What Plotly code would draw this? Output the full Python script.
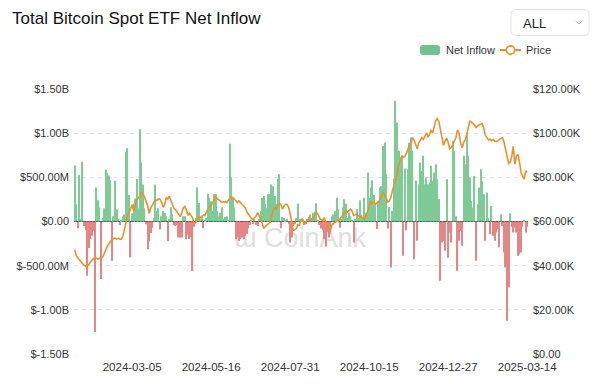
import plotly.graph_objects as go
import pandas as pd

# ---------------- data ----------------
# daily total net inflow of spot BTC ETFs, in $M
net_inflow_musd = [
    633, 196, -75, 528, 30, 675, -50, -100, -615, -300, -200, -160, -110, -1250, 385, 240,
    160, -650, 40, 150, 590, 550, 520, 470, -445, 60, 460, 140, 30, -40, 20, 60, 80, 790, 830, 300,
    -407, 90, 200, 260, 480, 150, 1045, 670, 420, 150,
    -30, -313, -220, -130, -70, 40, 420, 120, 150, -90, 60, 120, 100, 60, -220, 30, 160, 80, -40, -50,
    -40, -180, -180, -180, 60, 60, -200, -150, -200,
    -180, -560, -60, 40, 385, 210, 30, 50, -75, 20, 40, 310, 270, 230, 120, 310, 310, 120, 60, 100,
    160, 30, 50, 60, 20, 880, 500, 270, 160, -200, -180,
    -220, -200, -180, -200, -160, -140, -80, -40, 20, -30, 40, -40, -50, 30, 120, 270, 290, 200, 150, 310,
    310, 420, 400, 290, 200, 480, 535, -75,
    50, 40, 20, 30, -30, -237, -180, -50, -30, 40, 200, 30, 20, 10, -40, -30, 30, 50, 80, 40,
    100, 110, 207, 20, -40, -80, -100, -200, -283, -120, -180, -140,
    60, 80, 120, 270, 140, -70, 30, 158, 253, 200, 40, 100, 60, 20, -237, 30, 140, 40, 240, 60,
    40, 270, 100, 554, 270, 385, 467, 300, 190,
    -85, 233, 385, 400, 855, 893, 540, -80, 160, -520, 120, 490, 1365, 1120, 800, 686, 750, -388, 600, -100,
    592, 893, 950, 800, -426, 460, -219,
    422, 667, 573, 743, 422, 498, 422, 440, 630, 460, 554, 648, 479, 253, -671, -237, -219, -332, 479, -407,
    -124, -237, 912, 800, 60, -558, -219, -106, -275,
    743, 648, 988, 743, 498, 233, 158, 516, -445, 196, 385, 592, 460, 309, -219, 328, 40, -143, 177, -162,
    -219, -124, -87, -294, 83, -50, -350, -520, -1124, -747,
    94, -60, -125, -70, -125, -389, -370, -350, -60, 20, -125, -60,
]

# BTC price, in $K
price_kusd = [
    47.2, 44.5, 43.5, 42.5, 41.8, 41.0, 40.2, 39.8, 39.9, 40.3, 41.6, 42.6, 43.3, 43.1, 43.3, 43.0,
    43.5, 43.7, 43.8, 45.8, 47.0, 48.8, 49.9, 51.2, 51.9, 52.3, 52.5, 52.0, 52.4, 52.1, 51.9, 53.2,
    56.8, 59.8, 62.4, 63.8, 65.5, 67.6, 64.9, 67.5, 69.9, 70.6, 72.0, 73.0, 72.8, 70.5,
    69.1, 67.2, 63.6, 66.0, 67.5, 69.2, 70.0, 69.5, 70.3, 70.0, 68.7, 66.4, 67.6, 70.7, 70.2, 71.4,
    69.6, 67.9, 66.0, 65.4, 64.2, 63.4, 62.2, 63.8, 66.0, 66.8, 65.3, 62.8, 63.9,
    62.8, 61.6, 59.0, 59.6, 61.0, 62.0, 61.8, 62.5, 63.0, 62.7, 64.3, 65.9, 66.5, 67.2, 68.2, 70.0,
    71.5, 70.3, 69.7, 69.1, 68.7, 68.9, 69.0, 68.6, 69.3, 70.0, 71.1, 70.9, 70.2, 69.1, 68.6,
    69.3, 68.6, 67.6, 67.1, 66.3, 64.4, 63.2, 62.0, 61.4, 61.0, 61.7, 62.5, 64.0, 62.7, 61.2, 59.0,
    56.8, 57.7, 58.5, 58.9, 59.6, 62.3, 65.3, 66.4, 65.7, 67.0, 68.1, 67.9,
    65.7, 67.0, 67.8, 67.6, 66.4, 63.6, 59.2, 56.0, 56.2, 56.8, 58.6, 58.3, 61.0, 61.2, 59.3, 60.0,
    60.6, 61.1, 60.3, 61.0, 62.0, 63.1, 64.1, 63.2, 61.5, 60.8, 60.4, 61.8, 59.6, 58.9, 57.5, 56.0,
    58.5, 59.3, 59.6, 60.3, 60.0, 61.0, 62.0, 62.8, 63.9, 64.8, 64.2, 65.0, 65.6, 64.6, 62.7, 63.0,
    63.3, 62.7, 61.9, 62.5, 61.3, 61.2, 62.5, 64.7, 67.0, 69.3, 67.9, 68.5, 67.9,
    68.2, 68.7, 70.0, 71.5, 73.0, 72.4, 70.3, 68.8, 69.3, 71.0, 74.0, 76.2, 78.3, 81.2, 85.6, 88.0,
    89.6, 89.0, 89.5, 90.8, 92.9, 94.5, 95.5, 98.0, 96.8, 94.5, 93.0,
    95.5, 96.8, 98.0, 97.2, 98.6, 100.2, 98.2, 99.4, 101.5, 100.0, 103.0, 105.8, 106.6, 105.2, 101.5,
    98.3, 94.5, 96.5, 97.8, 95.8, 92.9, 93.5, 94.9, 97.0, 98.0, 101.5, 100.0, 95.5, 93.4,
    95.8, 97.0, 99.5, 102.6, 105.6, 104.9, 104.2, 103.8, 102.6, 103.3, 103.8, 104.0, 104.3, 102.0, 99.0,
    98.0, 96.9, 97.3, 96.6, 97.2, 96.3, 96.2, 96.5, 97.2, 97.6, 98.0, 96.0, 92.5, 89.2, 86.3,
    86.8, 89.5, 94.0, 86.0, 89.5, 90.4, 87.0, 82.3, 80.5, 79.2, 82.9, 82.2,
]

# trading calendar (category labels)
market_holidays = ["2024-01-15", "2024-02-19", "2024-03-29", "2024-05-27", "2024-06-19",
                   "2024-07-04", "2024-09-02", "2024-11-28", "2024-12-25", "2025-01-01",
                   "2025-01-09", "2025-01-20", "2025-02-17"]
days_without_data = ["2024-09-30", "2024-10-14"]
dates = [d.strftime("%Y-%m-%d") for d in pd.bdate_range("2024-01-10", "2025-03-14")
         if d.strftime("%Y-%m-%d") not in market_holidays + days_without_data]

x_tick_labels = ["2024-03-05", "2024-05-16", "2024-07-31", "2024-10-15", "2024-12-27", "2025-03-14"]
left_tick_vals = [-1.5e9, -1.0e9, -5e8, 0, 5e8, 1.0e9, 1.5e9]
left_tick_text = ["$-1.50B", "$-1.00B", "$-500.00M", "$0.00", "$500.00M", "$1.00B", "$1.50B"]
right_tick_vals = [0, 20000, 40000, 60000, 80000, 100000, 120000]
right_tick_text = ["$0.00", "$20.00K", "$40.00K", "$60.00K", "$80.00K", "$100.00K", "$120.00K"]

if len(dates) != len(net_inflow_musd) or len(dates) != len(price_kusd):
    raise SystemExit(f"length mismatch: dates={len(dates)} inflow={len(net_inflow_musd)} price={len(price_kusd)}")

inflow_usd = [v * 1e6 for v in net_inflow_musd]
price_usd = [p * 1000 for p in price_kusd]

GREEN = "#7fcb98"
RED = "#e48686"
ORANGE = "#e9912e"
FONT = "Liberation Sans, Arial, Helvetica, sans-serif"

bar_colors = [GREEN if v >= 0 else RED for v in inflow_usd]

fig = go.Figure()
fig.add_trace(go.Bar(x=dates, y=inflow_usd, marker=dict(color=bar_colors, line=dict(width=0)),
                     name="Net Inflow", yaxis="y"))
fig.add_trace(go.Scatter(x=dates, y=price_usd, mode="lines", name="Price",
                         line=dict(color=ORANGE, width=1.6), yaxis="y2"))

# plot-area geometry in pixels (for decorations)
L, R, T, B = 74, 528, 89, 354
def px(x):
    return (x - L) / (R - L)
def py(y):
    return (B - y) / (B - T)

def rrect(x0, y0, x1, y1, r):
    pts = [
        f"M {px(x0 + r)},{py(y0)}", f"L {px(x1 - r)},{py(y0)}", f"Q {px(x1)},{py(y0)} {px(x1)},{py(y0 + r)}",
        f"L {px(x1)},{py(y1 - r)}", f"Q {px(x1)},{py(y1)} {px(x1 - r)},{py(y1)}",
        f"L {px(x0 + r)},{py(y1)}", f"Q {px(x0)},{py(y1)} {px(x0)},{py(y1 - r)}",
        f"L {px(x0)},{py(y0 + r)}", f"Q {px(x0)},{py(y0)} {px(x0 + r)},{py(y0)}", "Z",
    ]
    return " ".join(pts)

shapes = [
    # watermark (below traces)
    dict(type="rect", xref="paper", yref="paper", x0=px(212), x1=px(388), y0=py(252), y1=py(218),
         layer="below", line=dict(width=0), fillcolor="rgba(0,0,0,0)",
         label=dict(text="ɯ CoinAnk", font=dict(size=27, color="#e0e0e0", family=FONT),
                    textposition="middle center")),
    # dropdown box
    dict(type="path", xref="paper", yref="paper", path=rrect(511, 9.5, 589, 35.5, 5),
         line=dict(color="#e2e2e2", width=1), fillcolor="white", layer="above"),
    dict(type="path", xref="paper", yref="paper",
         path=f"M {px(575.5)},{py(20.5)} L {px(579)},{py(24)} L {px(582.5)},{py(20.5)}",
         line=dict(color="#c4c4c4", width=1)),
    # legend: net inflow swatch
    dict(type="path", xref="paper", yref="paper", path=rrect(420, 45, 440, 55, 3),
         line=dict(width=0), fillcolor="#72c28e"),
    # legend: price line + hollow marker
    dict(type="line", xref="paper", yref="paper", x0=px(500), x1=px(521), y0=py(50), y1=py(50),
         line=dict(color=ORANGE, width=2)),
    dict(type="circle", xref="paper", yref="paper", x0=px(506.3), x1=px(514.7), y0=py(45.8), y1=py(54.2),
         line=dict(color=ORANGE, width=1.8), fillcolor="white"),
]

annotations = [
    dict(text="Total Bitcoin Spot ETF Net Inflow", xref="paper", yref="paper", x=px(9.5), y=py(18.5),
         xanchor="left", yanchor="middle", showarrow=False, font=dict(size=17, color="#111", family=FONT)),
    dict(text="ALL", xref="paper", yref="paper", x=px(520.5), y=py(23), xanchor="left", yanchor="middle",
         showarrow=False, font=dict(size=13, color="#222", family=FONT)),
    dict(text="Net Inflow", xref="paper", yref="paper", x=px(444), y=py(50), xanchor="left", yanchor="middle",
         showarrow=False, font=dict(size=11, color="#333", family=FONT)),
    dict(text="Price", xref="paper", yref="paper", x=px(523.5), y=py(50), xanchor="left", yanchor="middle",
         showarrow=False, font=dict(size=11, color="#333", family=FONT)),
]

fig.update_layout(
    width=600, height=384,
    margin=dict(l=L, r=600 - R, t=T, b=384 - B, pad=0),
    paper_bgcolor="white", plot_bgcolor="white",
    showlegend=False, bargap=0.22,
    font=dict(family=FONT, size=11, color="#333"),
    shapes=shapes, annotations=annotations,
    xaxis=dict(type="category", tickmode="array", tickvals=x_tick_labels, ticktext=x_tick_labels,
               showgrid=False, showline=False, zeroline=False, ticks="", ticklabelstandoff=4,
               tickfont=dict(size=11.5, color="#333"), tickangle=0),
    yaxis=dict(range=[-1.5e9, 1.5e9], tickmode="array", tickvals=left_tick_vals, ticktext=left_tick_text,
               showgrid=True, gridcolor="#e6e6e6", griddash="4px,4px", gridwidth=1,
               zeroline=True, zerolinecolor="#1a1a1a", zerolinewidth=1,
               showline=False, ticks="", ticklabelstandoff=4, tickfont=dict(size=11, color="#333")),
    yaxis2=dict(range=[0, 120000], overlaying="y", side="right", tickmode="array",
                tickvals=right_tick_vals, ticktext=right_tick_text, showgrid=False, zeroline=False,
                showline=False, ticks="", ticklabelstandoff=4, tickfont=dict(size=11, color="#333")),
)

fig.write_html("out.html", config={"displayModeBar": False},
               post_script="document.body.style.margin='0';document.body.style.padding='0';")
